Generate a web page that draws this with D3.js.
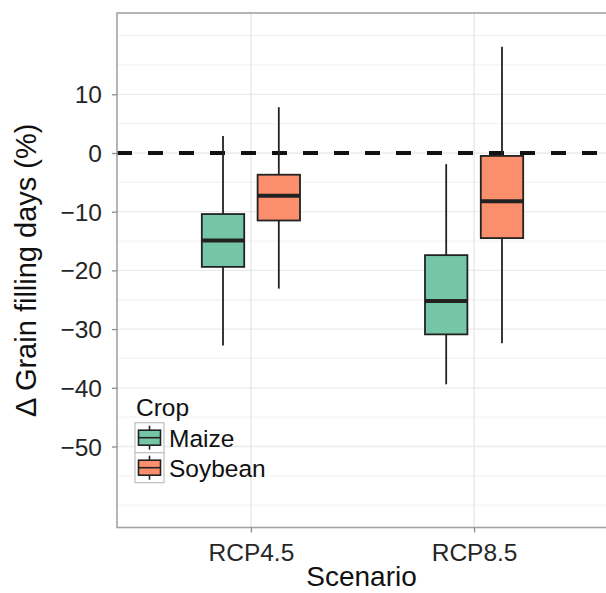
<!DOCTYPE html>
<html lang="en">
<head>
<meta charset="utf-8">
<title></title>
<script src="https://d3js.org/d3.v7.min.js"></script>
<style type="text/css">
  body { margin: 0; background: #fff; }
  svg { font-family: "Liberation Sans", Arial, sans-serif; }
  .tick text { fill: #262626; font-size: 24.5px; }
  .tick line { stroke: #8c8c8c; stroke-width: 1.3px; }
  .axisTitle { fill: #111; font-size: 29px; }
  .legendText { fill: #111; font-size: 24.5px; }
</style>
</head>
<body>
<svg width="606" height="593"></svg>
<script>
// categories and tick labels
var scenarios = ["RCP4.5", "RCP8.5"];
var crops = ["Maize", "Soybean"];
var yTicks = [10, 0, -10, -20, -30, -40, -50];
var gridLines = [20, 15, 10, 5, 0, -5, -10, -15, -20, -25, -30, -35, -40, -45, -50, -55, -60];

// box stats per scenario: [lower whisker, Q1, median, Q3, upper whisker]
var maizeBox = [[-32.8, -19.4, -14.9, -10.4, 2.9], [-39.4, -30.9, -25.2, -17.4, -1.9]];
var soybeanBox = [[-23.1, -11.5, -7.3, -3.7, 7.8], [-32.4, -14.5, -8.2, -0.5, 18.1]];

var cropColor = {"Maize": "#74c6a6", "Soybean": "#fb8f6d"};

var svg = d3.select("svg");
var margin = {top: 13, right: -2, bottom: 65.5, left: 117};
var width = +svg.attr("width") - margin.left - margin.right;
var height = +svg.attr("height") - margin.top - margin.bottom;
var g = svg.append("g").attr("transform", `translate(${margin.left}, ${margin.top})`);

var xScale = d3.scalePoint().domain(scenarios).range([0, width]).padding(0.6);
var yScale = d3.scaleLinear().domain([-63.8, 23.85]).range([height, 0]);
var step = xScale.step();
var dodge = d3.scalePoint().domain(crops).range([-0.125 * step, 0.125 * step]);
var boxW = 0.19 * step;

// grid
g.selectAll(".hgrid").data(gridLines).enter().append("line")
  .attr("x1", 0).attr("x2", width)
  .attr("y1", d => yScale(d)).attr("y2", d => yScale(d))
  .attr("stroke", d => yTicks.indexOf(d) >= 0 ? "#ebebeb" : "#f3f3f3")
  .attr("stroke-width", 1.3);
g.selectAll(".vgrid").data(scenarios).enter().append("line")
  .attr("x1", d => xScale(d)).attr("x2", d => xScale(d))
  .attr("y1", 0).attr("y2", height)
  .attr("stroke", "#e3e3e3").attr("stroke-width", 1.2);

// dashed zero line
g.append("line")
  .attr("x1", 0).attr("x2", width)
  .attr("y1", yScale(0)).attr("y2", yScale(0))
  .attr("stroke", "#111").attr("stroke-width", 4)
  .attr("stroke-dasharray", "15 16");

// boxes
var rows = [];
scenarios.forEach(function(s, i) {
  rows.push({scenario: s, crop: "Maize", v: maizeBox[i]});
  rows.push({scenario: s, crop: "Soybean", v: soybeanBox[i]});
});
var boxes = g.selectAll(".box").data(rows).enter().append("g")
  .attr("transform", d => `translate(${xScale(d.scenario) + dodge(d.crop)}, 0)`);
boxes.append("line")
  .attr("x1", 0).attr("x2", 0)
  .attr("y1", d => yScale(d.v[0])).attr("y2", d => yScale(d.v[4]))
  .attr("stroke", "#222").attr("stroke-width", 1.8);
boxes.append("rect")
  .attr("x", -boxW / 2).attr("width", boxW)
  .attr("y", d => yScale(d.v[3]))
  .attr("height", d => yScale(d.v[1]) - yScale(d.v[3]))
  .attr("fill", d => cropColor[d.crop])
  .attr("stroke", "#222").attr("stroke-width", 1.8);
boxes.append("line")
  .attr("x1", -boxW / 2).attr("x2", boxW / 2)
  .attr("y1", d => yScale(d.v[2])).attr("y2", d => yScale(d.v[2]))
  .attr("stroke", "#222").attr("stroke-width", 4);

// panel border
g.append("rect")
  .attr("x", 0).attr("y", 0).attr("width", width).attr("height", height)
  .attr("fill", "none").attr("stroke", "#a3a3a3").attr("stroke-width", 1.6);

// axes
var yAxis = g.append("g")
  .call(d3.axisLeft(yScale).tickValues(yTicks).tickSize(5).tickPadding(10));
yAxis.select(".domain").remove();
yAxis.selectAll("text").attr("font-family", null).attr("font-size", null).attr("dy", "0.35em");

var xAxis = g.append("g")
  .attr("transform", `translate(0, ${height})`)
  .call(d3.axisBottom(xScale).tickSize(5).tickPadding(11));
xAxis.select(".domain").remove();
xAxis.selectAll("text").attr("font-family", null).attr("font-size", null).attr("dy", "0.71em");

svg.append("text").attr("class", "axisTitle")
  .attr("x", margin.left + width / 2 - 1).attr("y", 586)
  .attr("text-anchor", "middle").style("font-size", "28px").text("Scenario");
svg.append("text").attr("class", "axisTitle")
  .attr("transform", `translate(36, ${margin.top + height / 2}) rotate(-90)`)
  .attr("text-anchor", "middle").text("\u0394 Grain filling days (%)");

// legend
var legend = svg.append("g").attr("transform", "translate(135, 0)");
legend.append("text").attr("class", "legendText")
  .attr("x", 1).attr("y", 416).text("Crop");
var keyH = 30, keyW = 29, keyTop = 422.7;
var keys = legend.selectAll(".key").data(crops).enter().append("g")
  .attr("transform", (d, i) => `translate(0, ${keyTop + i * keyH})`);
keys.append("rect")
  .attr("width", keyW).attr("height", keyH)
  .attr("fill", "#fff").attr("stroke", "#c4c4c4").attr("stroke-width", 1.3);
keys.append("line")
  .attr("x1", keyW / 2).attr("x2", keyW / 2).attr("y1", 3).attr("y2", keyH - 3)
  .attr("stroke", "#222").attr("stroke-width", 1.6);
keys.append("rect")
  .attr("x", 3.5).attr("y", 7.5).attr("width", keyW - 7).attr("height", keyH - 15)
  .attr("fill", d => cropColor[d]).attr("stroke", "#222").attr("stroke-width", 1.6);
keys.append("line")
  .attr("x1", 3.5).attr("x2", keyW - 3.5).attr("y1", keyH / 2).attr("y2", keyH / 2)
  .attr("stroke", "#222").attr("stroke-width", 1.6);
keys.append("text").attr("class", "legendText")
  .attr("x", keyW + 5).attr("y", keyH / 2).attr("dy", "0.36em")
  .text(d => d);
</script>
</body>
</html>
